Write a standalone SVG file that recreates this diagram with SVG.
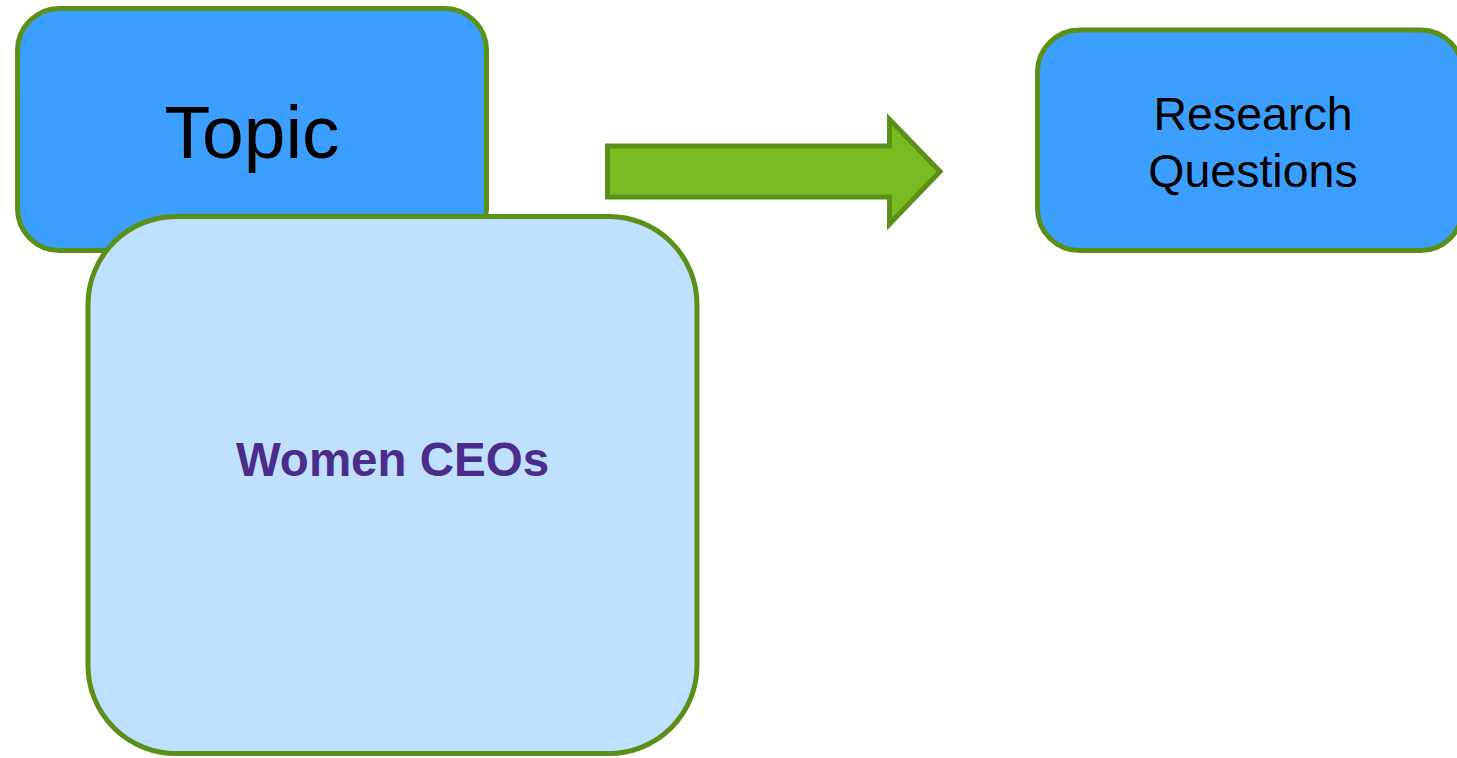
<svg xmlns="http://www.w3.org/2000/svg" width="1457" height="758" viewBox="0 0 1457 758">
<style>
.box{stroke:#5a8f18;stroke-width:5}
.dark{fill:#3c9eff}
.light{fill:#bfe0ff}
.t{font-family:"Liberation Sans",Arial,sans-serif;text-anchor:middle;fill:#000}
.w{font-family:"Liberation Sans",Arial,sans-serif;text-anchor:middle;fill:#4b2c8a;font-weight:bold}
</style>
<rect width="1457" height="758" fill="#fff"/>
<g id="topic">
<rect class="box dark" x="17.5" y="8.5" width="469" height="242" rx="42" ry="42"/>
<text class="t" x="252" y="158" font-size="75">Topic</text>
</g>
<g id="women-ceos">
<rect class="box light" x="88" y="216.5" width="609" height="537" rx="88" ry="88"/>
<text class="w" x="392.5" y="476" font-size="47.5">Women CEOs</text>
</g>
<g id="research-questions">
<rect class="box dark" x="1037.5" y="30" width="425" height="220.5" rx="42" ry="42"/>
<text class="t" x="1253" y="130" font-size="46.5">Research</text>
<text class="t" x="1253" y="187" font-size="46.5">Questions</text>
</g>
<g id="connectors">
<polygon points="607.5,146 889.5,146 889.5,119.5 940,171.5 889.5,224 889.5,197 607.5,197" fill="#79bc21" stroke="#5a8f18" stroke-width="5" stroke-linejoin="miter"/>
</g>
</svg>
